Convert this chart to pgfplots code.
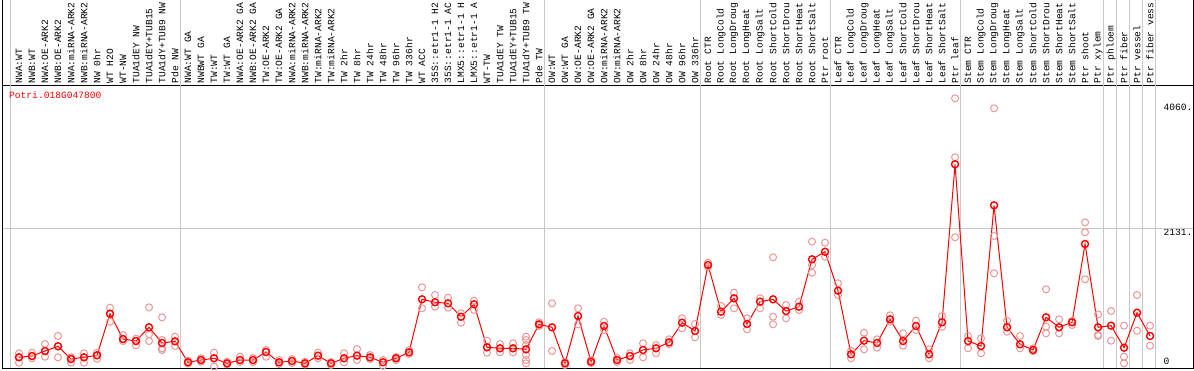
\documentclass[border=0pt]{standalone}
\usepackage{pgfplots}
\pgfplotsset{compat=1.18}
\usepackage{fontspec}
\setmainfont{Liberation Mono}
\definecolor{rep}{RGB}{235,150,150}
\definecolor{gridg}{RGB}{200,200,200}
\newcommand{\lblfont}{\fontsize{9.6}{10}\selectfont}
\begin{document}
\begin{tikzpicture}[x=1pt,y=1pt]
\useasboundingbox (0,0) rectangle (1194,370);
\clip (0,0) rectangle (1194,370);
\begin{axis}[at={(2.7pt,1.7pt)}, anchor=south west, scale only axis,
  width=1190.6pt, height=283.3pt,
  xmin=-0.254, xmax=91.33, ymin=-27.8, ymax=4343.5,
  clip=false, axis line style={line width=1pt},
  major tick length=0pt,
  xtick={1,...,88},
  xticklabels={NWA:WT,NWB:WT,NWA:OE-ARK2,NWB:OE-ARK2,NWA:miRNA-ARK2,NWB:miRNA-ARK2,NW 0hr,WT H2O,WT-NW,TUA1dEY NW,TUA1dEY+TUB15,TUA1dY+TUB9 NW,Pde NW,
  NWA:WT GA,NWBWT GA,TW:WT,TW:WT GA,NWA:OE-ARK2 GA,NWB:OE-ARK2 GA,TW:OE-ARK2,TW:OE-ARK2 GA,NWA:miRNA-ARK2,NWB:miRNA-ARK2,TW:miRNA-ARK2,TW:miRNA-ARK2,TW 2hr,TW 8hr,TW 24hr,TW 48hr,TW 96hr,TW 336hr,WT ACC,35S::etr1-1 H2,35S::etr1-1 AC,LMX5::etr1-1 H,LMX5::etr1-1 A,WT-TW,TUA1dEY TW,TUA1dEY+TUB15,TUA1dY+TUB9 TW,Pde TW,
  OW:WT,OW:WT GA,OW:OE-ARK2,OW:OE-ARK2 GA,OW:miRNA-ARK2,OW:miRNA-ARK2,OW 2hr,OW 8hr,OW 24hr,OW 48hr,OW 96hr,OW 336hr,
  Root CTR,Root LongCold,Root LongDroug,Root LongHeat,Root LongSalt,Root ShortCold,Root ShortDrou,Root ShortHeat,Root ShortSalt,Ptr root,
  Leaf CTR,Leaf LongCold,Leaf LongDroug,Leaf LongHeat,Leaf LongSalt,Leaf ShortCold,Leaf ShortDrou,Leaf ShortHeat,Leaf ShortSalt,Ptr leaf,
  Stem CTR,Stem LongCold,Stem LongDroug,Stem LongHeat,Stem LongSalt,Stem ShortCold,Stem ShortDrou,Stem ShortHeat,Stem ShortSalt,Ptr shoot,
  Ptr xylem,Ptr phloem,Ptr fiber,Ptr vessel,Ptr fiber vess},
  xticklabel pos=upper,
  xticklabel style={rotate=90, anchor=west, inner xsep=1.5pt, inner ysep=0pt, font=\lblfont},
  ytick={2131,4060}, yticklabels={\mbox{2131.},\mbox{4060.}},
  yticklabel pos=right,
  yticklabel style={anchor=west, inner sep=0pt, xshift=-30pt, yshift=-4pt, font=\lblfont},
  extra y ticks={0}, extra y tick labels={\mbox{0}},
  extra y tick style={yticklabel style={yshift=9pt}},
]
\pgfplotsinvokeforeach{0.31,13.44,41.44,53.44,63.44,73.44,84.44,85.44,86.44,87.44,88.44}{
  \draw[gridg, line width=1pt] (axis cs:#1,-27.8) -- (axis cs:#1,6500);
}
\draw[gridg, line width=1pt] (axis cs:-0.254,2131) -- (axis cs:91.33,2131);
\addplot[only marks, mark=o, mark size=3.5pt, color=rep, mark options={line width=1pt}] coordinates {
(1,204)(1,59)(1,142)(2,213)(2,127)(2,162)(3,347)(3,151)(3,239)(4,471)(4,142)(4,312)
(5,59)(5,142)(5,116)(6,204)(6,59)(6,142)(7,213)(7,120)(7,173)(8,907)(8,691)(8,815)
(9,486)(9,393)(9,424)(10,429)(10,327)(10,393)(11,913)(11,497)(11,393)
(12,759)(12,409)(12,255)(12,281)(13,460)(13,316)(14,49)(14,89)(15,127)(15,74)
(16,213)(16,0)(17,74)(17,34)(18,154)(18,69)(19,131)(19,69)(20,255)(20,151)
(21,100)(21,39)(22,116)(22,54)(23,74)(23,31)(24,213)(24,127)(25,69)(25,23)
(26,204)(26,65)(27,270)(27,100)(28,177)(28,116)(29,100)(29,12)(30,147)(30,100)
(31,255)(31,193)(32,1222)(32,898)(33,1103)(33,923)(34,1062)(34,907)(35,821)(35,676)
(36,1015)(36,872)(37,398)(37,213)(38,347)(38,219)(39,358)(39,219)
(40,460)(40,409)(40,332)(40,177)(40,100)(40,49)(41,682)(41,625)(42,975)(42,239)
(43,69)(43,23)(44,898)(44,651)(45,100)(45,54)(46,691)(46,563)(47,131)(47,69)
(48,204)(48,100)(49,358)(49,142)(50,332)(50,204)(51,420)(51,347)(52,744)(52,589)
(53,656)(53,451)(54,1602)(54,1540)(55,934)(55,795)(56,1139)(56,898)(57,744)(57,574)
(58,1052)(58,898)(59,1685)(59,768)(59,651)(60,949)(60,744)(61,1000)(61,872)
(62,1926)(62,1566)(62,1447)(63,1910)(63,1694)(64,1284)(64,1103)(65,244)(65,127)
(66,522)(66,265)(67,420)(67,290)(68,790)(68,691)(69,512)(69,321)(70,707)(70,563)
(71,265)(71,127)(72,779)(72,614)(73,4138)(73,3228)(73,1994)(74,471)(74,281)
(75,435)(75,204)(76,3984)(76,2014)(76,1438)(77,707)(77,537)(78,471)(78,281)
(79,278)(79,239)(80,1191)(80,614)(80,512)(81,728)(81,512)(82,640)(82,702)
(83,2225)(83,2071)(83,1345)(84,805)(84,486)(84,471)(85,856)(85,398)
(86,630)(86,151)(86,49)(87,1103)(87,552)(88,630)(88,321)
};
\addplot[red, line width=1pt, mark=o, mark size=3.5pt, mark options={line width=1.4pt}] coordinates {
(1,142)(2,162)(3,239)(4,312)(5,116)(6,142)(7,173)(8,815)(9,424)(10,393)
(11,605)(12,363)(13,389)(14,65)(15,100)(16,127)(17,49)(18,100)(19,100)(20,224)
(21,65)(22,85)(23,49)(24,167)(25,49)(26,127)(27,167)(28,142)(29,65)(30,127)
(31,219)(32,1037)(33,991)(34,975)(35,768)(36,960)(37,296)(38,281)(39,281)(40,265)
(41,651)(42,605)(43,49)(44,779)(45,74)(46,625)(47,100)(48,162)(49,255)(50,281)
(51,373)(52,676)(53,548)(54,1566)(55,846)(56,1052)(57,656)(58,1000)(59,1037)(60,856)
(61,923)(62,1654)(63,1771)(64,1170)(65,188)(66,398)(67,363)(68,728)(69,393)(70,625)
(71,188)(72,682)(73,3120)(74,393)(75,316)(76,2487)(77,605)(78,343)(79,255)(80,759)
(81,605)(82,682)(83,1890)(84,605)(85,630)(86,290)(87,830)(88,471)
};
\end{axis}
\draw[line width=1pt] (2.7,285) -- (2.7,371);
\draw[line width=1pt] (1193.3,285) -- (1193.3,371);
\node[anchor=base west, red, inner sep=0pt, font=\lblfont] at (9,271.5) {Potri.018G047800};
\end{tikzpicture}
\end{document}
